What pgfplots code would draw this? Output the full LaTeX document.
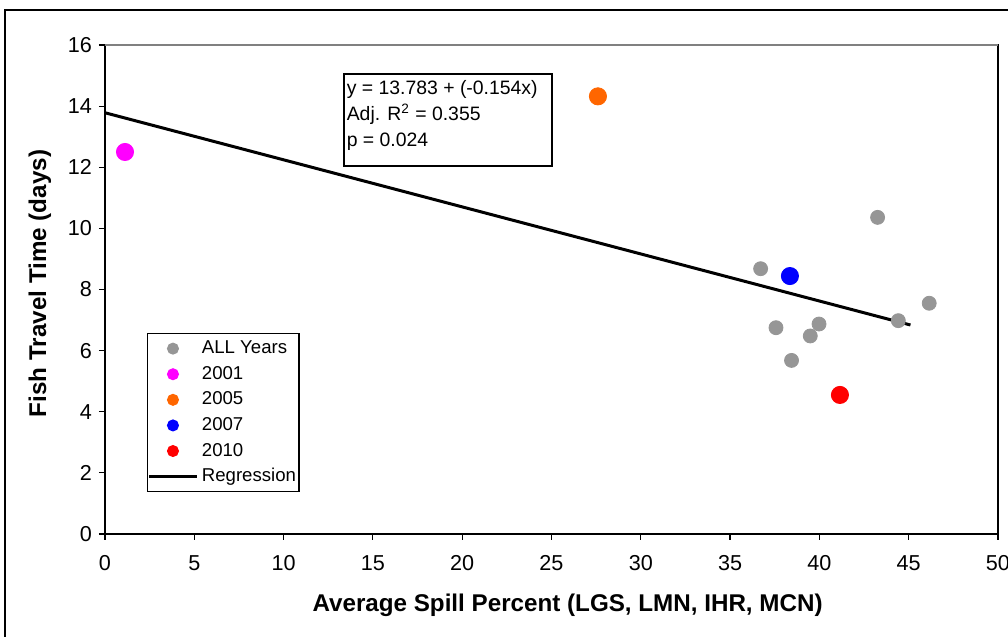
\documentclass[border=0pt]{standalone}
\usepackage{pgfplots}
\pgfplotsset{compat=1.18}
\usepackage{fontspec}
\setmainfont{Liberation Sans}
\definecolor{grayp}{RGB}{150,150,150}
\definecolor{magp}{RGB}{255,0,255}
\definecolor{orp}{RGB}{255,102,0}
\definecolor{blp}{RGB}{0,0,255}
\definecolor{rdp}{RGB}{255,0,0}
\begin{document}
\begin{tikzpicture}
\useasboundingbox (-52.5pt,-51.5pt) rectangle (451.5pt,267pt);
\clip (-52.5pt,-51.5pt) rectangle (451.5pt,267pt);
\draw[line width=1pt] (-50pt,262pt) rectangle (470pt,-70pt);
\begin{axis}[
  at={(0pt,0pt)}, anchor=south west,
  scale only axis, width=446.5pt, height=244.5pt,
  xmin=0, xmax=50, ymin=0, ymax=16,
  xtick={0,5,...,50}, ytick={0,2,...,16},
  xtick pos=left, ytick pos=left,
  tick align=outside, major tick length=3pt,
  tick style={black, line width=0.6pt},
  axis line style={black, line width=0.8pt},
  /pgf/number format/assume math mode=true,
  ticklabel style={font=\fontsize{10.8}{12}\selectfont},
  xticklabel style={yshift=-4.2pt},
  yticklabel style={xshift=0pt},
  xlabel={Average Spill Percent (LGS, LMN, IHR, MCN)},
  ylabel={Fish Travel Time (days)},
  label style={font=\fontsize{12.1}{14}\selectfont\bfseries},
  xlabel style={at={(axis description cs:0.518,-0.145)}, anchor=center},
  ylabel style={at={(axis description cs:-0.073,0.5123)}, anchor=center},
  legend style={at={(rel axis cs:0.047,0.411)}, anchor=north west,
    draw=black, line width=0.6pt, fill=white, font=\fontsize{9.3}{11}\selectfont,
    inner xsep=0pt, inner ysep=1.5pt, row sep=0.8pt,
    nodes={text height=7pt, text depth=2pt, inner sep=1.5pt},
    cells={anchor=west}},
  legend image code/.code={\draw[#1, mark size=2.7pt] plot coordinates {(0.42cm,0cm)};},
  clip=false,
]
\draw[grayp!85!black, line width=0.8pt] (rel axis cs:0,1) -- (rel axis cs:1,1);
\addplot[black, line width=1.5pt, forget plot] coordinates {(0,13.783) (45.1,6.838)};
\addplot[only marks, mark=*, mark size=3.5pt, color=grayp, mark options={draw=grayp, fill=grayp}] coordinates {
(43.26,10.36) (36.71,8.68) (46.15,7.55) (44.42,6.98) (37.57,6.75) (39.98,6.87) (39.49,6.48) (38.44,5.68)};
\addlegendentry{ALL Years}
\addplot[only marks, mark=*, mark size=4.3pt, color=magp, mark options={draw=magp, fill=magp}] coordinates {(1.12,12.5)};
\addlegendentry{2001}
\addplot[only marks, mark=*, mark size=4.3pt, color=orp, mark options={draw=orp, fill=orp}] coordinates {(27.6,14.32)};
\addlegendentry{2005}
\addplot[only marks, mark=*, mark size=4.3pt, color=blp, mark options={draw=blp, fill=blp}] coordinates {(38.35,8.44)};
\addlegendentry{2007}
\addplot[only marks, mark=*, mark size=4.3pt, color=rdp, mark options={draw=rdp, fill=rdp}] coordinates {(41.15,4.55)};
\addlegendentry{2010}
\addlegendimage{legend image code/.code={\draw[black, line width=1.5pt] (0cm,0cm) -- (0.85cm,0cm);}}
\addlegendentry{Regression}
\node[draw=black, line width=0.8pt, anchor=north west, inner sep=0pt, fill=white] at (rel axis cs:0.2665,0.9427)
  {\begin{minipage}[t][46pt][t]{104pt}\fontsize{9.7}{13}\selectfont\vspace{3.5pt}\hspace*{1.5pt}y = 13.783 + (-0.154x)\\
  \hspace*{1.5pt}Adj. R\textsuperscript{2} = 0.355\\
  \hspace*{1.5pt}p = 0.024\end{minipage}};
\end{axis}
\end{tikzpicture}
\end{document}
